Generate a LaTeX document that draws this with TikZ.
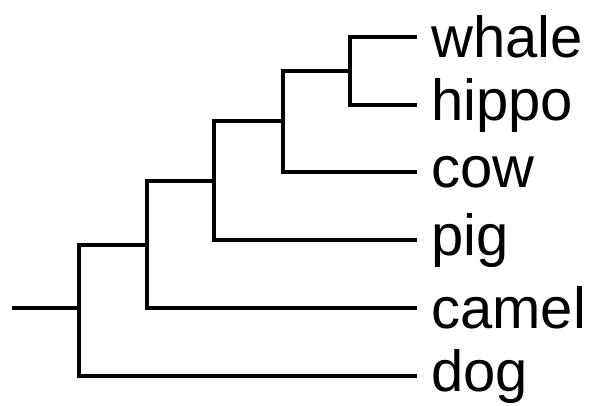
\documentclass[tikz,border=0pt]{standalone}
\usepackage{fontspec}
\setmainfont{Liberation Sans}
\usetikzlibrary{positioning}
\tikzset{
	branch/.style={line width=3.3pt, black},
	taxon/.style={inner sep=0pt, anchor=west, font=\fontsize{58}{62}\selectfont}
}
\begin{document}
\begin{tikzpicture}[x=1pt,y=-1pt]
\useasboundingbox (0,0) rectangle (594,405);

% tips of the leaves
\foreach \name/\y in {whale/37,hippo/105,cow/172,pig/240,camel/308,dog/376}
	\coordinate (\name) at (417,\y);
% inner nodes
\coordinate (root) at (12,308);
\coordinate (n1) at (79,308);
\coordinate (n2) at (147,245);
\coordinate (n3) at (214,181);
\coordinate (n4) at (283,121);
\coordinate (n5) at (350,71);

\draw[branch] (root) -- (n1);
\draw[branch] (n1) |- (n2);
\draw[branch] (n1) |- (dog);
\draw[branch] (n2) |- (n3);
\draw[branch] (n2) |- (camel);
\draw[branch] (n3) |- (n4);
\draw[branch] (n3) |- (pig);
\draw[branch] (n4) |- (n5);
\draw[branch] (n4) |- (cow);
\draw[branch] (n5) |- (whale);
\draw[branch] (n5) |- (hippo);

% labels
\foreach \name in {whale,hippo,cow,pig,camel,dog}
	\node[taxon, right=14pt of \name] (\name-label) {\name};
\end{tikzpicture}
\end{document}
